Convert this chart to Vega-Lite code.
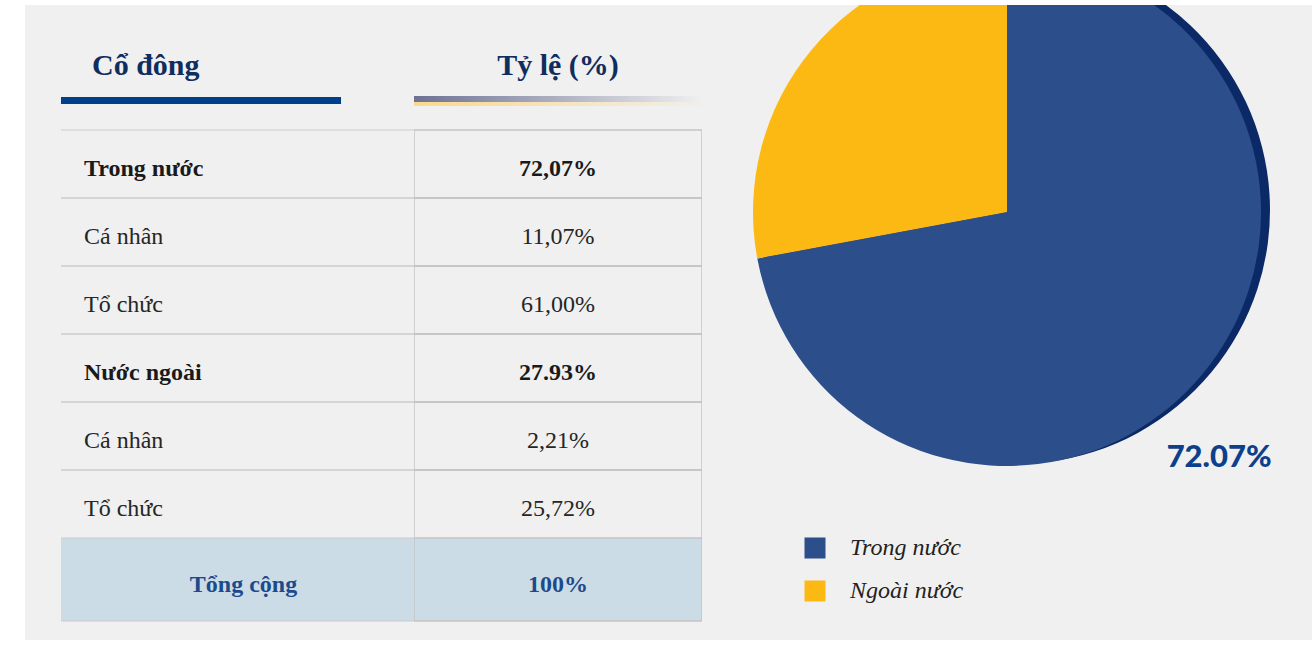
{
  "$schema": "https://vega.github.io/schema/vega-lite/v6.json",
  "background": "#ffffff",
  "padding": {"left": 25, "top": 5, "right": 0, "bottom": 5},
  "spacing": 0,
  "config": {
    "view": {"stroke": null, "fill": "#f0f0f0"},
    "concat": {"spacing": 0},
    "text": {"font": "Liberation Serif"}
  },
  "datasets": {
    "table": [
      {"row": 1, "name": "Trong nước", "pct": "72,07%", "level": "group"},
      {"row": 2, "name": "Cá nhân", "pct": "11,07%", "level": "sub"},
      {"row": 3, "name": "Tổ chức", "pct": "61,00%", "level": "sub"},
      {"row": 4, "name": "Nước ngoài", "pct": "27.93%", "level": "group"},
      {"row": 5, "name": "Cá nhân", "pct": "2,21%", "level": "sub"},
      {"row": 6, "name": "Tổ chức", "pct": "25,72%", "level": "sub"}
    ],
    "total": [{"name": "Tổng cộng", "pct": "100%"}],
    "headers": [{"col": "Cổ đông"}, {"col": "Tỷ lệ (%)"}],
    "pie": [
      {"category": "Trong nước", "value": 72.07, "label": "72.07%"},
      {"category": "Ngoài nước", "value": 27.93, "label": ""}
    ]
  },
  "hconcat": [
    {
      "width": 36,
      "height": 635,
      "data": {"name": "headers"},
      "transform": [{"filter": "datum.col === 'Cổ đông'"}],
      "mark": {"type": "rect", "color": "#f0f0f0"}
    },
    {
      "bounds": "flush",
      "spacing": 0,
      "vconcat": [
        {
          "width": 353,
          "height": 92,
          "data": {"name": "headers"},
          "transform": [{"filter": "datum.col === 'Cổ đông'"}],
          "layer": [
            {"mark": {"type": "rect", "color": "#f0f0f0"}},
            {
              "mark": {"type": "text", "align": "left", "baseline": "alphabetic", "dx": -145.5, "dy": 24, "fontSize": 30, "fontWeight": "bold", "color": "#0f2d5e", "clip": true},
              "encoding": {"text": {"field": "col"}}
            }
          ]
        },
        {
          "width": 353,
          "height": 7,
          "data": {"name": "headers"},
          "transform": [{"filter": "datum.col === 'Cổ đông'"}],
          "layer": [
            {"mark": {"type": "rect", "color": "#f0f0f0"}},
            {
              "mark": {"type": "rect", "color": "#003f8a"},
              "encoding": {
                "x": {"field": "col", "type": "nominal", "axis": null, "scale": {"paddingInner": 0, "paddingOuter": 0.1303, "align": 0}}
              }
            }
          ]
        },
        {
          "width": 353,
          "height": 434,
          "data": {"name": "table"},
          "encoding": {
            "y": {"field": "row", "type": "ordinal", "axis": null, "scale": {"paddingInner": 0, "paddingOuter": 0.1911, "align": 1}}
          },
          "layer": [
            {
              "mark": {"type": "rule", "color": "#cccccc", "strokeWidth": 1, "clip": true},
              "encoding": {"y": {"field": "row", "type": "ordinal", "bandPosition": 0}}
            },
            {
              "mark": {"type": "rule", "color": "#cccccc", "strokeWidth": 1, "clip": true},
              "encoding": {"y": {"field": "row", "type": "ordinal", "bandPosition": 1}}
            },
            {
              "transform": [{"filter": "datum.level === 'group'"}],
              "mark": {"type": "text", "align": "left", "baseline": "alphabetic", "dx": -153.5, "dy": 12, "fontSize": 24, "fontWeight": "bold", "color": "#1a1a1a"},
              "encoding": {"text": {"field": "name"}}
            },
            {
              "transform": [{"filter": "datum.level === 'sub'"}],
              "mark": {"type": "text", "align": "left", "baseline": "alphabetic", "dx": -153.5, "dy": 12, "fontSize": 24, "fontWeight": "normal", "color": "#262626"},
              "encoding": {"text": {"field": "name"}}
            }
          ]
        },
        {
          "width": 353,
          "height": 102,
          "data": {"name": "total"},
          "encoding": {
            "y": {"field": "name", "type": "nominal", "axis": null, "scale": {"paddingInner": 0, "paddingOuter": 0.1144, "align": 0}}
          },
          "layer": [
            {"mark": {"type": "rect", "color": "#ccdce7"}},
            {
              "mark": {"type": "rule", "color": "#cccccc", "strokeWidth": 1, "clip": true},
              "encoding": {"y": {"field": "name", "type": "nominal", "bandPosition": 0}}
            },
            {
              "mark": {"type": "rule", "color": "#cccccc", "strokeWidth": 1, "clip": true},
              "encoding": {"y": {"field": "name", "type": "nominal", "bandPosition": 1}}
            },
            {
              "mark": {"type": "text", "align": "center", "baseline": "alphabetic", "dx": 6, "dy": 12, "fontSize": 24, "fontWeight": "bold", "color": "#1c4b8c"},
              "encoding": {"text": {"field": "name"}}
            }
          ]
        }
      ]
    },
    {
      "bounds": "flush",
      "spacing": 0,
      "vconcat": [
        {
          "width": 288,
          "height": 91,
          "data": {"name": "headers"},
          "transform": [{"filter": "datum.col === 'Tỷ lệ (%)'"}],
          "layer": [
            {"mark": {"type": "rect", "color": "#f0f0f0"}},
            {
              "mark": {"type": "text", "align": "center", "baseline": "alphabetic", "dy": 24.5, "fontSize": 30, "fontWeight": "bold", "color": "#0f2d5e", "clip": true},
              "encoding": {"text": {"field": "col"}}
            }
          ]
        },
        {
          "width": 288,
          "height": 6,
          "data": {"name": "headers"},
          "transform": [{"filter": "datum.col === 'Tỷ lệ (%)'"}],
          "mark": {
            "type": "rect",
            "color": {"gradient": "linear", "x1": 0, "y1": 0, "x2": 1, "y2": 0, "stops": [{"offset": 0, "color": "#6d7294"}, {"offset": 1, "color": "#f0f0f0"}]}
          }
        },
        {
          "width": 288,
          "height": 4,
          "data": {"name": "headers"},
          "transform": [{"filter": "datum.col === 'Tỷ lệ (%)'"}],
          "mark": {
            "type": "rect",
            "color": {"gradient": "linear", "x1": 0, "y1": 0, "x2": 1, "y2": 0, "stops": [{"offset": 0, "color": "#fcd98c"}, {"offset": 1, "color": "#f1efea"}]}
          }
        },
        {
          "width": 288,
          "height": 432,
          "data": {"name": "table"},
          "encoding": {
            "y": {"field": "row", "type": "ordinal", "axis": null, "scale": {"paddingInner": 0, "paddingOuter": 0.1764, "align": 1}}
          },
          "layer": [
            {"mark": {"type": "rect", "fillOpacity": 0, "stroke": "#c4c4c4", "strokeWidth": 1.5, "clip": true}},
            {
              "transform": [{"filter": "datum.level === 'group'"}],
              "mark": {"type": "text", "align": "center", "baseline": "alphabetic", "dy": 12, "fontSize": 24, "fontWeight": "bold", "color": "#1a1a1a"},
              "encoding": {"text": {"field": "pct"}}
            },
            {
              "transform": [{"filter": "datum.level === 'sub'"}],
              "mark": {"type": "text", "align": "center", "baseline": "alphabetic", "dy": 12, "fontSize": 24, "fontWeight": "normal", "color": "#262626"},
              "encoding": {"text": {"field": "pct"}}
            }
          ]
        },
        {
          "width": 288,
          "height": 102,
          "data": {"name": "total"},
          "encoding": {
            "y": {"field": "name", "type": "nominal", "axis": null, "scale": {"paddingInner": 0, "paddingOuter": 0.1144, "align": 0}}
          },
          "layer": [
            {"mark": {"type": "rect", "color": "#ccdce7", "stroke": "#c4c4c4", "strokeWidth": 1.5, "clip": true}},
            {
              "mark": {"type": "text", "align": "center", "baseline": "alphabetic", "dy": 12, "fontSize": 24, "fontWeight": "bold", "color": "#1c4b8c"},
              "encoding": {"text": {"field": "pct"}}
            }
          ]
        }
      ]
    },
    {
      "width": 610,
      "height": 635,
      "data": {"name": "pie"},
      "layer": [
        {"mark": {"type": "rect", "color": "#f0f0f0"}},
        {
          "mark": {"type": "arc", "outerRadius": 254, "xOffset": 9, "yOffset": -112.5, "clip": true, "color": "#0b2966"},
          "encoding": {
            "theta": {"field": "value", "type": "quantitative", "stack": true},
            "order": {"field": "value", "type": "quantitative", "sort": "descending"},
            "opacity": {"condition": {"test": "datum.category === 'Ngoài nước'", "value": 0}, "value": 1}
          }
        },
        {
          "mark": {"type": "arc", "outerRadius": 254, "yOffset": -110.5, "clip": true},
          "encoding": {
            "theta": {"field": "value", "type": "quantitative", "stack": true},
            "order": {"field": "value", "type": "quantitative", "sort": "descending"},
            "color": {
              "field": "category",
              "type": "nominal",
              "scale": {"domain": ["Trong nước", "Ngoài nước"], "range": ["#2c4f8c", "#fdb913"]},
              "legend": {
                "orient": "none",
                "legendX": 778,
                "legendY": 531,
                "title": null,
                "symbolType": "square",
                "symbolSize": 441,
                "symbolStrokeWidth": 0,
                "symbolOpacity": 1,
                "labelFont": "Liberation Serif",
                "labelFontStyle": "italic",
                "labelFontSize": 24,
                "labelColor": "#222222",
                "labelOffset": 23,
                "labelLimit": 300,
                "rowPadding": 19,
                "encode": {
                  "symbols": {"update": {"fill": {"signal": "datum.value === 'Trong nước' ? '#003f8a' : '#fdb913'"}}}
                }
              }
            }
          }
        },
        {
          "mark": {"type": "text", "radius": 344, "yOffset": -110.5, "dy": 11, "align": "right", "baseline": "top", "font": "Lato", "fontSize": 31, "fontWeight": 900, "color": "#0c3f8c", "clip": true},
          "encoding": {
            "theta": {"field": "value", "type": "quantitative", "stack": true},
            "order": {"field": "value", "type": "quantitative", "sort": "descending"},
            "text": {"field": "label"}
          }
        }
      ]
    }
  ]
}
